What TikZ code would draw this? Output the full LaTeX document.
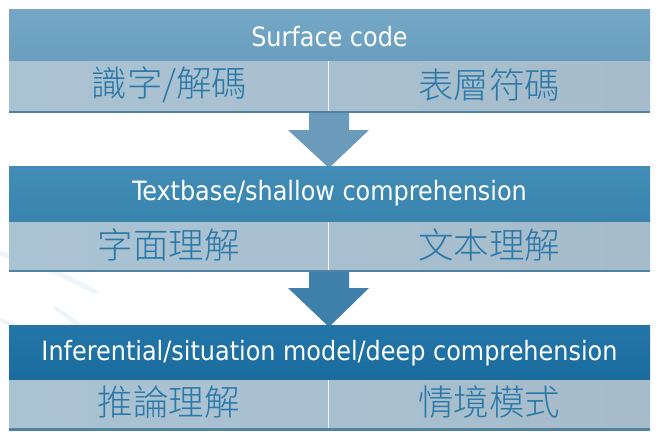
\documentclass[tikz,border=0pt]{standalone}
\usepackage{fontspec}
\setmainfont{DejaVu Sans Condensed}
\newfontfamily\cjk{Noto Sans CJK TC Light}
\definecolor{hdA}{HTML}{6A9EBD}
\definecolor{hdAtop}{HTML}{74A8C6}
\definecolor{hdB}{HTML}{3884AE}
\definecolor{hdBtop}{HTML}{438DB6}
\definecolor{hdC}{HTML}{1A6C9E}
\definecolor{hdCtop}{HTML}{2476A8}
\definecolor{subL}{HTML}{AAC3D3}
\definecolor{subR}{HTML}{A6BCCB}
\definecolor{subtxt}{HTML}{2A78A8}
\definecolor{barcol}{HTML}{4F83A3}
\definecolor{arrA}{HTML}{6A9BBA}
\definecolor{arrB}{HTML}{3F80AA}
\definecolor{swoosh}{HTML}{EEF5FA}
\begin{document}
\begin{tikzpicture}[x=1pt,y=-1pt,
  hdtext/.style={text=white,font=\fontsize{26.6}{30}\selectfont},
  subtext/.style={text=subtxt,font=\cjk\fontsize{35.5}{38}\selectfont},
  blockarrow/.style={draw=none}]
\useasboundingbox (0,0) rectangle (659,434);
\fill[white] (0,0) rectangle (659,434);
% faint background swooshes
\draw[swoosh,line width=5pt,line cap=round] (-5,252) .. controls (30,262) and (60,272) .. (95,292);
\draw[swoosh,line width=4pt,line cap=round] (55,308) .. controls (70,318) and (80,326) .. (92,334);
\draw[swoosh,line width=4pt,line cap=round] (-5,318) .. controls (10,324) and (25,330) .. (40,338);
% arrows
\fill[arrA,blockarrow] (309,111) -- (349,111) -- (349,130) -- (369,130) -- (329,168) -- (288,130) -- (309,130) -- cycle;
\fill[arrB,blockarrow] (309,270) -- (349,270) -- (349,288) -- (369,288) -- (329,327) -- (288,288) -- (309,288) -- cycle;
% block 1
\shade[top color=hdAtop,bottom color=hdA] (9,9) rectangle (650,61);
\node[hdtext] (h1) at (329.5,37) {Surface code};
\shade[left color=subL,right color=subR] (9,61) rectangle (650,111);
\fill[barcol] (9,110.5) rectangle (650,113);
\draw[white!80!subL,line width=0.8pt] (328,61) -- (328,110.5);
\node[subtext] (s1a) at (169.5,84.5) {識字/解碼};
\node[subtext] (s1b) at (489,84.5) {表層符碼};
% block 2
\shade[top color=hdBtop,bottom color=hdB] (9,166) rectangle (650,222);
\node[hdtext] (h2) at (329.5,193) {Textbase/shallow comprehension};
\shade[left color=subL,right color=subR] (9,222) rectangle (650,270);
\fill[barcol] (9,269.5) rectangle (650,272);
\draw[white!80!subL,line width=0.8pt] (328,222) -- (328,269.5);
\node[subtext] (s2a) at (168.5,244.5) {字面理解};
\node[subtext] (s2b) at (489,244.5) {文本理解};
% block 3
\shade[top color=hdCtop,bottom color=hdC] (9,325) rectangle (650,380);
\node[hdtext] (h3) at (329.5,353) {Inferential/situation model/deep comprehension};
\shade[left color=subL,right color=subR] (9,380) rectangle (650,428);
\fill[barcol] (9,427.5) rectangle (650,431);
\draw[white!80!subL,line width=0.8pt] (328,380) -- (328,427.5);
\node[subtext] (s3a) at (168.5,402.5) {推論理解};
\node[subtext] (s3b) at (489,402.5) {情境模式};
\end{tikzpicture}
\end{document}
